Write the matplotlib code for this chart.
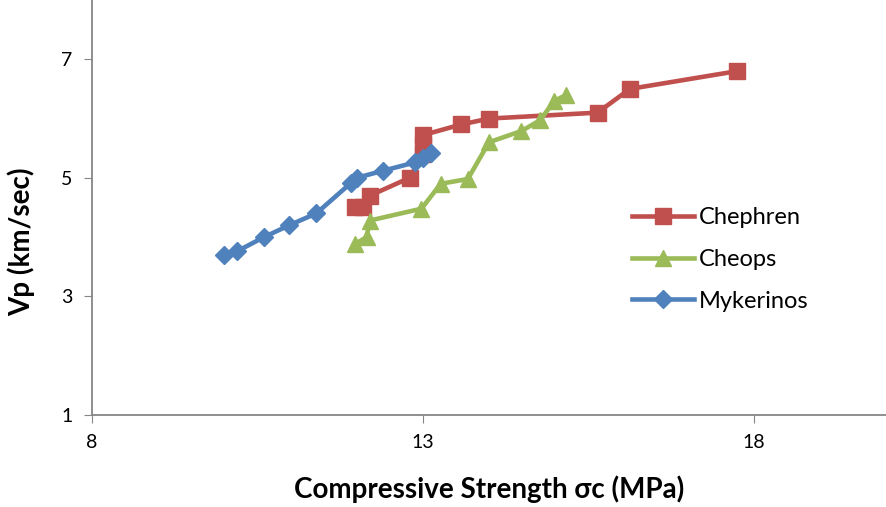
import matplotlib.pyplot as plt

plt.rcParams['font.family'] = ['Lato', 'DejaVu Sans']

# Chephren
chephren_x = [11.97, 12.1, 12.2, 12.8, 13.0, 13.0, 13.0, 13.58, 14.0, 15.64, 16.13, 17.75]
chephren_y = [4.5, 4.5, 4.7, 5.0, 5.4, 5.55, 5.72, 5.9, 6.0, 6.1, 6.5, 6.8]

# Cheops
cheops_x = [11.97, 12.15, 12.2, 12.98, 13.27, 13.68, 14.0, 14.49, 14.77, 14.99, 15.17]
cheops_y = [3.88, 4.0, 4.28, 4.48, 4.9, 4.98, 5.6, 5.79, 5.97, 6.3, 6.4]

# Mykerinos
myk_x = [9.99, 10.19, 10.6, 10.98, 11.39, 11.92, 12.0, 12.4, 12.88, 13.0, 13.13]
myk_y = [3.7, 3.76, 4.0, 4.2, 4.4, 4.92, 5.0, 5.12, 5.26, 5.34, 5.42]

fig = plt.figure(figsize=(8.86, 5.07), dpi=100)
ax = fig.add_axes([0.1038, 0.1815, 0.8962, 0.8185])

ax.plot(chephren_x, chephren_y, color='#C0504D', lw=3.3, marker='s', ms=11,
        solid_joinstyle='round', label='Chephren')
ax.plot(cheops_x, cheops_y, color='#9BBB59', lw=3.3, marker='^', ms=12,
        solid_joinstyle='round', label='Cheops')
ax.plot(myk_x, myk_y, color='#4F81BD', lw=3.3, marker='D', ms=9.5,
        solid_joinstyle='round', label='Mykerinos')

ax.set_xlim(8, 20)
ax.set_ylim(1, 8)
ax.set_xticks([8, 13, 18])
ax.set_yticks([1, 3, 5, 7])
ax.tick_params(direction='out', length=6, color='#868686', labelsize=14, pad=8)
for s in ['top', 'right']:
    ax.spines[s].set_visible(False)
for s in ['left', 'bottom']:
    ax.spines[s].set_color('#868686')
    ax.spines[s].set_linewidth(1.3)

fig.text(0.552, 0.035, 'Compressive Strength σc (MPa)', ha='center', va='center',
         fontsize=20, fontweight='bold')
fig.text(0.024, 0.523, 'Vp (km/sec)', ha='center', va='center', rotation=90,
         fontsize=20, fontweight='bold')

ax.legend(loc='upper left', bbox_to_anchor=(0.703, 0.61), bbox_transform=fig.transFigure,
          frameon=False, fontsize=17, handlelength=2.6, handletextpad=0.2,
          labelspacing=0.88, borderaxespad=0)

fig.savefig('out.png', dpi=100)
